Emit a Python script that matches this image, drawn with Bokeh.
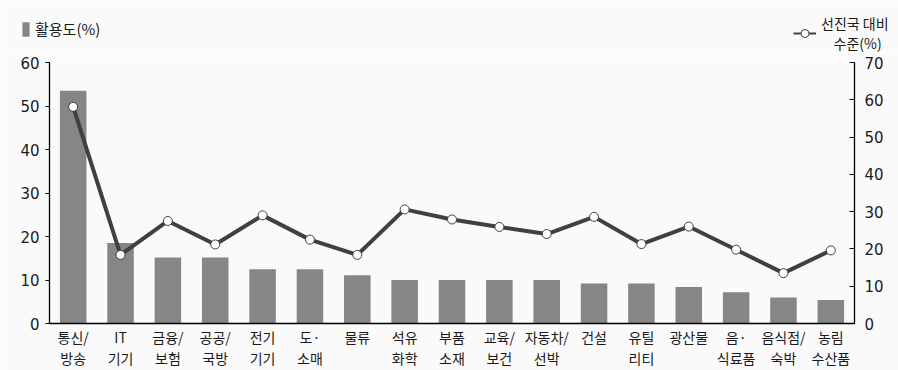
from bokeh.plotting import figure
from bokeh.layouts import column, row
from bokeh.models import (Range1d, LinearAxis, FixedTicker, Legend,
                          LegendItem, ColumnDataSource)
from bokeh.embed import file_html
from bokeh.resources import INLINE

# category labels (first line / second line)
cat_line1 = ["통신/", "IT", "금융/", "공공/", "전기", "도·", "물류", "석유", "부품",
             "교육/", "자동차/", "건설", "유틸", "광산물", "음·", "음식점/", "농림"]
cat_line2 = ["방송", "기기", "보험", "국방", "기기", "소매", "", "화학", "소재",
             "보건", "선박", "", "리티", "", "식료품", "숙박", "수산품"]
usage = [53.5, 18.5, 15.2, 15.2, 12.5, 12.5, 11.1, 10.0, 10.0, 10.0, 10.0,
         9.2, 9.2, 8.4, 7.2, 6.0, 5.4]
level = [58.1, 18.4, 27.5, 21.2, 29.0, 22.5, 18.4, 30.6, 27.9, 25.9, 24.0,
         28.6, 21.3, 26.0, 19.8, 13.5, 19.6]
left_ticks = [0, 10, 20, 30, 40, 50, 60]
right_ticks = [0, 10, 20, 30, 40, 50, 60, 70]
bar_label = "활용도(%)"
line_label = "선진국 대비\n\u00a0\u00a0\u00a0\u00a0수준(%)"

KR = "Noto Sans CJK KR"
BG = "#fafafa"
BAR = "#868686"
LINE = "#404040"
TXT = "#1a1a1a"

n = len(cat_line1)
idx = list(range(n))
src = ColumnDataSource(dict(x=idx, usage=usage, level=level))

W = 898
HEAD_H = 52
MAIN_H = 370 - HEAD_H

# ---------------- main chart ----------------
p = figure(width=W, height=MAIN_H, x_range=Range1d(-0.5, n - 0.5),
           y_range=Range1d(0, 60), output_backend="svg", toolbar_location=None,
           min_border_left=49, min_border_right=44,
           min_border_top=10, min_border_bottom=45,
           x_axis_location=None)
p.extra_y_ranges = {"r": Range1d(0, 70)}
p.background_fill_color = BG
p.border_fill_color = BG
p.outline_line_color = None
p.xgrid.visible = False
p.ygrid.visible = False

bar_style = dict(fill_color=BAR, line_color=None)
line_style = dict(line_color=LINE)
mark_style = dict(fill_color="white", line_color=LINE, line_width=1)

p.vbar(x="x", top="usage", width=0.56, source=src, **bar_style)
p.line(x="x", y="level", source=src, y_range_name="r", line_width=4,
       **line_style)
p.scatter(x="x", y="level", source=src, y_range_name="r", size=9,
          **mark_style)

# left axis
ya = p.yaxis[0]
ya.ticker = FixedTicker(ticks=left_ticks)
ya.axis_line_color = "black"
ya.axis_line_width = 1.3
ya.major_tick_line_color = "black"
ya.major_tick_out = 4
ya.major_tick_in = 0
ya.minor_tick_line_color = None
ya.major_label_standoff = 6
ya.major_label_text_font = "DejaVu Sans"
ya.major_label_text_font_size = "15px"
ya.major_label_text_color = TXT

# right axis
ra = LinearAxis(y_range_name="r", ticker=FixedTicker(ticks=right_ticks))
ra.axis_line_color = "black"
ra.axis_line_width = 1.3
ra.major_tick_line_color = "black"
ra.major_tick_out = 0
ra.major_tick_in = 5
ra.minor_tick_line_color = None
ra.major_label_standoff = 10
ra.major_label_text_font = "DejaVu Sans"
ra.major_label_text_font_size = "15px"
ra.major_label_text_color = TXT
p.add_layout(ra, "right")

# x axes: first line of labels, then second line
def x_axis(lines, standoff, show_line):
    ax = LinearAxis(ticker=FixedTicker(ticks=idx),
                    major_label_overrides={i: t for i, t in zip(idx, lines)})
    ax.axis_line_color = "black" if show_line else None
    ax.axis_line_width = 1.3
    ax.major_tick_line_color = None
    ax.major_tick_out = 0
    ax.major_tick_in = 0
    ax.minor_tick_line_color = None
    ax.major_label_standoff = standoff
    ax.major_label_text_font = KR
    ax.major_label_text_font_size = "14px"
    ax.major_label_text_color = TXT
    return ax

p.add_layout(x_axis(cat_line1, 3, True), "below")
p.add_layout(x_axis(cat_line2, -2, False), "below")

# ---------------- legend header ----------------
# the header shows the same series, but its ranges keep the marks out of view,
# so only the legend entries are visible
h = figure(width=W, height=HEAD_H, x_range=Range1d(100, 101),
           y_range=Range1d(100, 101),
           output_backend="svg", toolbar_location=None,
           min_border_left=0, min_border_right=0, min_border_top=0,
           min_border_bottom=0, x_axis_location=None, y_axis_location=None)
h.background_fill_color = BG
h.border_fill_color = BG
h.outline_line_color = None
h.xgrid.visible = False
h.ygrid.visible = False

r_bar = h.vbar(x="x", top="usage", width=0.56, source=src, **bar_style)
r_line = h.line(x="x", y="level", source=src, line_width=2, **line_style)
r_mark = h.scatter(x="x", y="level", source=src, size=8, **mark_style)

common = dict(padding=0, margin=0, spacing=0, border_line_alpha=0,
              background_fill_alpha=0, label_text_font=KR,
              label_text_color=TXT, label_standoff=5)

leg1 = Legend(items=[LegendItem(label=bar_label, renderers=[r_bar])],
              location=(21, 13), glyph_width=9, glyph_height=18,
              label_text_font_size="15px", **common)
leg2 = Legend(items=[LegendItem(label=line_label, renderers=[r_line, r_mark])],
              location=(793, -1), glyph_width=23, glyph_height=20,
              label_text_font_size="14px", **common)
h.add_layout(leg1)
h.add_layout(leg2)

layout = column(row(h), p, spacing=0)
open("out.html", "w").write(file_html(layout, INLINE))
